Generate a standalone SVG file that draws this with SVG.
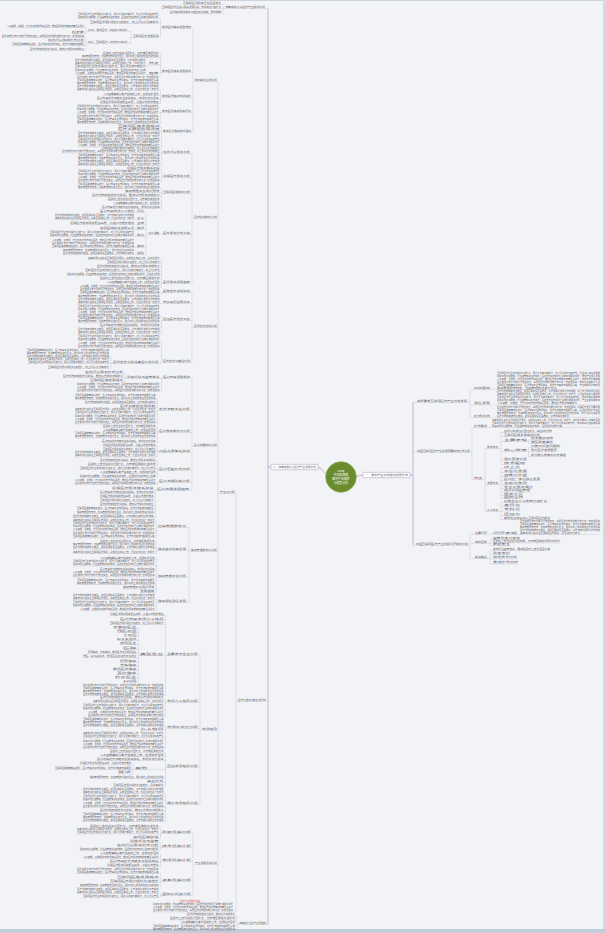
<svg xmlns="http://www.w3.org/2000/svg" width="606" height="933" viewBox="0 0 606 933">
<style>
.t{font-family:"Noto Sans CJK SC","Noto Sans",sans-serif;font-size:2.2px;fill:#5c5c5c}
.r{fill:#e0483e}
.w{font-family:"Noto Sans CJK SC","Noto Sans",sans-serif;font-size:2.9px;fill:#fff;text-anchor:middle}
.s{stroke:#c6bdd2;stroke-width:.4;fill:none}
.m{stroke:#b09dc3;stroke-width:.7;fill:none}
.b{fill:#fff;stroke:#a697b6;stroke-width:.5}
</style>
<rect width="606" height="933" fill="#f2f3f7"/>
<rect x="0" y="0" width="606" height="1" fill="#cfd5df"/>
<rect x="603" y="0" width="3" height="933" fill="#d3d8e1"/>
<rect x="0" y="929" width="606" height="4" fill="#c4cddb"/>
<g id="connectors">
<path class="m" d="M326 474.5Q322 468 318 467M356.2 476.5Q360 475 363 475M410 475H413M413 402.4V545.4M268 8.4V924.4M268 467H271"/>
<path class="s" d="M183 4.4H223M162 8.4H268M170 13.4H223M223 4.4V13.4M218 493.4H236M236 493.4V911.9M236 701.4H268M153 911.9H236M218 81.4V902.4M237 924.4H268M237 915.9V930.9M187 915.9H237M170 919.9H237M180 923.9H237M153 930.9H237M180 902.4H218"/>
<path class="s" d="M193 81.4H218M193 28.4V132.4M160.5 28.4H193M160.5 72.4H193M160.5 97.4H193M160.5 112.4H193M161.5 132.4H193M160.5 18.4V37.4M78 18.4H160.5M90 23.4H160.5M131 37.4H160.5M131 31.4V43.4M86 31.4H131M86 27.4V33.4M7 27.4H86M72 33.4H86M86 43.4H131M86 37.4V50.4M2 37.4H86M48 41.4H86M12 45.4H86M30 50.4H86M160.5 54.4V74.9M103 54.4H160.5M82 57.9H160.5M147.5 64.9H160.5M75 67.4H147.5M147.5 64.9V67.4M147.5 74.9H160.5M75 74.4H147.5M147.5 74.4V74.9M160.5 90.4V103.4M77 90.4H160.5M103 95.4H160.5M97 99.4H160.5M100 103.4H160.5M160.5 112.4V123.4M77 113.4H160.5M77 123.4H160.5M161.5 127.4V146.9M118 127.4H161.5M118 130.9H161.5M78 140.4H161.5M78 146.9H161.5"/>
<path class="s" d="M192 218.4H218M192 153.4V283.4M161.5 153.4H192M161.5 177.4H192M161.5 193.4H192M161.5 234.4H192M161.5 283.4H192M161.5 149.4V165.4M102 149.4H161.5M62 152.9H161.5M78 165.4H161.5M161.5 169.4V181.4M127 169.4H161.5M78 181.4H161.5M161.5 188.4V208.4M78 188.4H161.5M125 192.4H161.5M92 196.4H161.5M108 200.4H161.5M113 204.4H161.5M102 208.4H161.5M146 234.4H161.5M146 212.4V254.4M100 212.4H146M55 219.4H146M70 224.4H146M100 229.4H146M50 236.4H146M52 247.4H146M63 254.4H146M161.5 259.4V287.4M88 259.4H161.5M107 263.4H161.5M97 267.4H161.5M85 271.4H161.5M67 275.4H161.5M100 279.4H161.5M107 283.4H161.5M80 287.4H161.5"/>
<path class="s" d="M192 327.4H218M192 292.4V362.4M161.5 292.4H192M161.5 303.4H192M161.5 320.4H192M161.5 362.4H192M161.5 292.4V293.4M80 293.4H161.5M78 303.4H161.5M161.5 316.4V333.4M78 316.4H161.5M78 322.9H161.5M100 326.9H161.5M78 333.4H161.5M161.5 340.4V363.4M78 340.4H161.5M78 347.4H161.5M111 363.4H161.5M111 357.4V368.4M27 357.4H111M28 363.4H111M48 368.4H111"/>
<path class="s" d="M192 446.4H218M192 378.4V490.4M161.5 378.4H192M157.5 410.4H192M157.5 432.4H192M157.5 452.4H192M157.5 470.4H192M157.5 482.4H192M155.5 490.4H192M161.5 378.4V391.4M125 378.4H161.5M125 373.4V381.4M85 373.4H125M63 377.4H125M90 381.4H125M77 391.4H161.5M157.5 399.4V423.9M75 399.4H157.5M85 403.4H157.5M120 407.4H157.5M75 413.9H157.5M75 423.9H157.5M157.5 427.9V442.4M103 427.9H157.5M103 431.4H157.5M75 437.9H157.5M102 442.4H157.5M157.5 446.4V456.9M103 446.4H157.5M103 450.4H157.5M75 456.9H157.5M157.5 461.4V477.4M100 461.4H157.5M88 465.4H157.5M80 469.4H157.5M100 473.4H157.5M80 477.4H157.5M157.5 482.4V484.4M75 484.4H157.5M155.5 489.4V517.4M112 489.4H155.5M100 493.4H155.5M100 497.4H155.5M100 501.4H155.5M100 505.4H155.5M77 509.4H155.5M77 513.4H155.5M73 517.4H155.5"/>
<path class="s" d="M189 551.4H218M189 527.4V602.4M156.5 527.4H189M156.5 550.4H189M156.5 577.4H189M156.5 602.4H189M156.5 521.4V537.9M73 521.4H156.5M73 530.9H156.5M73 537.9H156.5M156.5 542.4V553.4M100 542.4H156.5M73 548.9H156.5M73 553.4H156.5M156.5 559.4V592.4M100 559.4H156.5M73 565.9H156.5M100 570.4H156.5M73 576.9H156.5M77 584.4H156.5M123 588.9H156.5M140 592.4H156.5M156.5 599.4V610.4M73 599.4H156.5M73 606.4H156.5M80 610.4H156.5"/>
<path class="s" d="M200 730.4H218M200 655.4V804.4M165.5 655.4H200M165.5 702.4H200M165.5 728.4H200M165.5 767.4H200M165.5 804.4H200M165.5 615.4V695.4M110 615.4H165.5M120 620.4H165.5M110 624.4H165.5M138.5 655.4H165.5M83 695.4H165.5M138.5 628.4V682.4M113 628.4H138.5M117 632.4H138.5M123 636.4H138.5M117 640.4H138.5M120 644.4H138.5M123 649.4H138.5M88 653.4H138.5M83 657.4H138.5M120 662.4H138.5M120 666.4H138.5M113 670.4H138.5M117 674.4H138.5M115 678.4H138.5M123 682.4H138.5M165.5 698.9V716.4M100 698.9H165.5M93 702.4H165.5M83 709.4H165.5M88 716.4H165.5M165.5 726.4V748.4M83 726.4H165.5M140 730.4H165.5M83 737.9H165.5M83 748.4H165.5M165.5 752.9V786.4M110 752.9H165.5M100 756.4H165.5M97 760.4H165.5M133 769.4H165.5M133 764.9V773.9M80 764.9H133M55 769.4H133M118 773.9H133M90 778.4H165.5M147 782.4H165.5M113 786.4H165.5M165.5 793.4V821.4M83 793.4H165.5M83 800.4H165.5M83 807.4H165.5M100 811.4H165.5M83 821.4H165.5"/>
<path class="s" d="M193 864.4H218M193 833.4V895.4M160.5 833.4H193M160.5 847.4H193M160.5 861.4H193M160.5 881.4H193M160.5 895.4H193M160.5 827.4V838.4M90 827.4H160.5M77 833.9H160.5M133 838.4H160.5M160.5 842.4V850.4M130 842.4H160.5M117 846.4H160.5M80 850.4H160.5M160.5 854.4V866.4M100 854.4H160.5M83 858.4H160.5M110 862.4H160.5M107 866.4H160.5M160.5 873.4V886.4M77 873.4H160.5M117 878.4H160.5M110 882.4H160.5M80 886.4H160.5M160.5 893.4V897.4M77 893.4H160.5M83 897.4H160.5"/>
<path class="s" d="M413 402.4H470M413 452.4H472M413 545.4H470M470 389.4V417.4M470 389.4H600M470 404.9H600M470 417.4H600M472 427.4V479.4M472 427.4H600M472 479.4H485M485 448.4V511.4M485 448.4H501M501 432.4V464.4M501 432.4H552M501 436.4H540M501 441.4H528.5M528.5 439.9V443.4M528.5 439.9H553M528.5 443.4H553M501 451.4H528.5M528.5 447.9V456.4M528.5 447.9H560M528.5 451.9H557M528.5 456.4H566M501 460.4H527M501 464.4H525M485 484.4H501M501 468.4V498.4M501 468.4H520M501 472.4H527M501 476.4H527M501 480.4H540M501 484.4H527M501 488.4H533M501 491.9H530M501 495.4H523M501 498.4H523M485 511.4H501M501 502.4V519.4M501 502.4H547M501 506.4H520M501 510.9H520M501 515.4H520M501 519.4H550M470 534.4V558.4M470 534.4H600M470 543.4H490M490 539.4V545.9M490 539.4H520M490 542.9H560M490 545.9H510M470 558.4H490M490 550.4V563.9M490 550.4H550M490 554.4H510M490 558.9H517M490 563.9H518"/>
</g>
<g id="center">
<circle cx="341" cy="477" r="15.3" fill="#6a8c2f" stroke="#86a84a" stroke-width="0.8"/>
<text class="w" x="341" y="471.6" style="font-size:2.2px">2019年</text>
<text class="w" x="341" y="475.6">中国互联网</text>
<text class="w" x="341" y="479.6">医疗产业现状</text>
<text class="w" x="341" y="483.6">与趋势分析</text>
</g>
<g id="L"><rect class="b" x="271" y="464.3" width="47" height="5.4" rx="0.4"/><text class="t" x="273" y="467.8" textLength="43" lengthAdjust="spacingAndGlyphs">二、流量获取分享医疗产业发展分析</text></g>
<g id="R"><rect class="b" x="363" y="472.3" width="47" height="5.4" rx="0.4"/><text class="t" x="365" y="475.8" textLength="43" lengthAdjust="spacingAndGlyphs">一、数字产业创新驱动发展方向</text></g>

<g id="L1"><text class="t" x="225" y="7.8" textLength="40" lengthAdjust="spacingAndGlyphs">流量获取分享医疗产业现状分析</text></g>
<g id="L1a"><text class="t" x="183" y="3.8" textLength="38" lengthAdjust="spacingAndGlyphs">互联网医疗政策环境全面优化</text></g>
<g id="L1b"><text class="t" x="162" y="7.8" textLength="59" lengthAdjust="spacingAndGlyphs">互联网医疗行业进入快速发展阶段，市场规模持续扩大</text></g>
<g id="L1c"><text class="t" x="170" y="12.8" textLength="51" lengthAdjust="spacingAndGlyphs">医疗健康服务数字化转型步伐加快，需求释放</text></g>
<g id="L2"><text class="t" x="238" y="700.8" textLength="28" lengthAdjust="spacingAndGlyphs">医疗产业数字化转型分析方向</text></g>
<g id="L3"><text class="t" x="239" y="923.8" textLength="27" lengthAdjust="spacingAndGlyphs">流量获取分享医疗产业发展趋势</text></g>
<g id="A"><text class="t" x="220" y="492.8" textLength="15" lengthAdjust="spacingAndGlyphs">产业化分析</text></g>
<g id="N80"><text class="t" x="195" y="80.8" textLength="22" lengthAdjust="spacingAndGlyphs">数字健康行业发展分析</text></g>
<g id="N217"><text class="t" x="194" y="217.8" textLength="23" lengthAdjust="spacingAndGlyphs">医疗服务数字化分析</text></g>
<g id="N326"><text class="t" x="194" y="326.8" textLength="23" lengthAdjust="spacingAndGlyphs">医疗信息化建设分析</text></g>
<g id="N445"><text class="t" x="194" y="445.8" textLength="23" lengthAdjust="spacingAndGlyphs">医药流通数字化分析</text></g>
<g id="N550"><text class="t" x="191" y="550.8" textLength="26" lengthAdjust="spacingAndGlyphs">健康管理数字化分析</text></g>
<g id="N729"><text class="t" x="202" y="729.8" textLength="15" lengthAdjust="spacingAndGlyphs">市场格局</text></g>
<g id="N863"><text class="t" x="195" y="863.8" textLength="22" lengthAdjust="spacingAndGlyphs">产业发展机遇分析</text></g>
<g id="RED"><text class="t r" x="180" y="901.8" textLength="20" lengthAdjust="spacingAndGlyphs">医疗产业发展新机遇</text></g>

<g id="lvl5">
<text class="t" x="162" y="27.8" textLength="29" lengthAdjust="spacingAndGlyphs">数字医疗健康发展背景</text>
<text class="t" x="162" y="71.8" textLength="29" lengthAdjust="spacingAndGlyphs">数字医疗健康发展现状</text>
<text class="t" x="162" y="96.8" textLength="29" lengthAdjust="spacingAndGlyphs">数字医疗健康市场规模</text>
<text class="t" x="162" y="111.8" textLength="29" lengthAdjust="spacingAndGlyphs">数字医疗健康政策环境</text>
<text class="t" x="163" y="131.8" textLength="28" lengthAdjust="spacingAndGlyphs">数字医疗健康技术驱动</text>
<text class="t" x="163" y="152.8" textLength="27" lengthAdjust="spacingAndGlyphs">在线问诊服务分析</text>
<text class="t" x="163" y="176.8" textLength="27" lengthAdjust="spacingAndGlyphs">远程医疗服务分析</text>
<text class="t" x="163" y="192.8" textLength="27" lengthAdjust="spacingAndGlyphs">互联网医院服务分析</text>
<text class="t" x="163" y="233.8" textLength="27" lengthAdjust="spacingAndGlyphs">医疗服务模式分类</text>
<text class="t" x="163" y="282.8" textLength="27" lengthAdjust="spacingAndGlyphs">医疗服务发展趋势</text>
<text class="t" x="163" y="291.8" textLength="27" lengthAdjust="spacingAndGlyphs">医院信息系统建设</text>
<text class="t" x="163" y="302.8" textLength="27" lengthAdjust="spacingAndGlyphs">电子病历应用水平</text>
<text class="t" x="163" y="319.8" textLength="27" lengthAdjust="spacingAndGlyphs">区域医疗信息平台</text>
<text class="t" x="163" y="361.8" textLength="27" lengthAdjust="spacingAndGlyphs">医疗信息化典型案例</text>
<text class="t" x="163" y="377.8" textLength="27" lengthAdjust="spacingAndGlyphs">医药电商发展现状</text>
<text class="t" x="159" y="409.8" textLength="31" lengthAdjust="spacingAndGlyphs">处方流转平台分析</text>
<text class="t" x="159" y="431.8" textLength="31" lengthAdjust="spacingAndGlyphs">医药物流数字化分析</text>
<text class="t" x="159" y="451.8" textLength="31" lengthAdjust="spacingAndGlyphs">药品追溯体系建设</text>
<text class="t" x="159" y="469.8" textLength="31" lengthAdjust="spacingAndGlyphs">医药零售模式创新</text>
<text class="t" x="159" y="481.8" textLength="31" lengthAdjust="spacingAndGlyphs">医药流通政策分析</text>
<text class="t" x="157" y="489.8" textLength="32" lengthAdjust="spacingAndGlyphs">医药流通发展趋势</text>
<text class="t" x="158" y="526.8" textLength="28" lengthAdjust="spacingAndGlyphs">慢病管理数字化</text>
<text class="t" x="158" y="549.8" textLength="28" lengthAdjust="spacingAndGlyphs">健康监测设备应用</text>
<text class="t" x="158" y="576.8" textLength="28" lengthAdjust="spacingAndGlyphs">健康管理平台分析</text>
<text class="t" x="158" y="601.8" textLength="28" lengthAdjust="spacingAndGlyphs">健康保险融合发展</text>
<text class="t" x="167" y="654.8" textLength="31" lengthAdjust="spacingAndGlyphs">主要参与企业分析</text>
<text class="t" x="167" y="701.8" textLength="31" lengthAdjust="spacingAndGlyphs">市场竞争格局分析</text>
<text class="t" x="167" y="727.8" textLength="31" lengthAdjust="spacingAndGlyphs">市场集中度分析</text>
<text class="t" x="167" y="766.8" textLength="31" lengthAdjust="spacingAndGlyphs">区域市场格局分析</text>
<text class="t" x="167" y="803.8" textLength="31" lengthAdjust="spacingAndGlyphs">细分市场格局分析</text>
<text class="t" x="162" y="832.8" textLength="29" lengthAdjust="spacingAndGlyphs">政策机遇分析</text>
<text class="t" x="162" y="846.8" textLength="29" lengthAdjust="spacingAndGlyphs">技术机遇分析</text>
<text class="t" x="162" y="860.8" textLength="29" lengthAdjust="spacingAndGlyphs">市场机遇分析</text>
<text class="t" x="162" y="880.8" textLength="29" lengthAdjust="spacingAndGlyphs">资本机遇分析</text>
<text class="t" x="162" y="894.8" textLength="29" lengthAdjust="spacingAndGlyphs">国际化机遇分析</text>
</g>

<g id="leaves-top">
<text class="t" x="78" y="14.8" textLength="80.5" lengthAdjust="spacingAndGlyphs">互联网医疗行业市场规模持续扩大，用户渗透率不断提升，线上问诊服务逐渐普及</text>
<text class="t" x="78" y="17.8" textLength="80.5" lengthAdjust="spacingAndGlyphs">政策红利持续释放，行业监管体系逐步完善，医保支付逐步向线上延伸打通服务闭环</text>
<text class="t" x="90" y="22.8" textLength="68.5" lengthAdjust="spacingAndGlyphs">互联网医疗用户规模持续增长，线上问诊渗透率提升</text>
<text class="t" x="133" y="36.8" textLength="25.5" lengthAdjust="spacingAndGlyphs">互联网医疗发展历程</text>
<text class="t" x="88" y="30.8" textLength="41" lengthAdjust="spacingAndGlyphs">2018、数字医疗（Digital Health）</text>
<text class="t" x="7" y="26.8" textLength="77" lengthAdjust="spacingAndGlyphs">人工智能、大数据、云计算等新技术加速落地，推动医疗服务效率和质量显著提升</text>
<text class="t" x="72" y="32.8" textLength="12" lengthAdjust="spacingAndGlyphs">起步期</text>
<text class="t" x="88" y="42.8" textLength="41" lengthAdjust="spacingAndGlyphs">2019、互联网医疗（Internet Health）</text>
<text class="t" x="2" y="36.8" textLength="82" lengthAdjust="spacingAndGlyphs">医疗资源分布不均衡问题依然突出，基层医疗机构服务能力有待进一步加强提高</text>
<text class="t" x="48" y="40.8" textLength="36" lengthAdjust="spacingAndGlyphs">在线问诊服务模式分析</text>
<text class="t" x="12" y="44.8" textLength="72" lengthAdjust="spacingAndGlyphs">互联网医院数量快速增长，医药电商平台布局加速，处方外流趋势日益明显</text>
<text class="t" x="30" y="49.8" textLength="54" lengthAdjust="spacingAndGlyphs">医疗机构加快信息化建设，推动诊疗服务流程优化</text>
<text class="t" x="103" y="53.8" textLength="55.5" lengthAdjust="spacingAndGlyphs">医保线上支付试点范围扩大，患者就医体验改善</text>
<text class="t" x="82" y="57.3" textLength="76.5" lengthAdjust="spacingAndGlyphs">健康管理需求旺盛，慢病管理市场潜力巨大，用户对线上服务的信任度逐步提高</text>
<text class="t" x="149" y="64.3" textLength="9.5" lengthAdjust="spacingAndGlyphs">特点</text>
<text class="t" x="75" y="60.8" textLength="70.5" lengthAdjust="spacingAndGlyphs">医疗机构加快数字化转型，智慧医院建设全面推进，诊疗流程持续优化</text>
<text class="t" x="75" y="63.8" textLength="70.5" lengthAdjust="spacingAndGlyphs">资本市场持续关注互联网医疗赛道，头部企业加速上市，集中度提升</text>
<text class="t" x="75" y="66.8" textLength="70.5" lengthAdjust="spacingAndGlyphs">互联网医疗行业市场规模持续扩大，用户渗透率不断提升</text>
<text class="t" x="149" y="74.3" textLength="9.5" lengthAdjust="spacingAndGlyphs">趋势</text>
<text class="t" x="75" y="70.8" textLength="70.5" lengthAdjust="spacingAndGlyphs">政策红利持续释放，行业监管体系逐步完善，医保支付逐步向线上延伸</text>
<text class="t" x="75" y="73.8" textLength="70.5" lengthAdjust="spacingAndGlyphs">人工智能、大数据等新技术加速落地，推动医疗服务效率显著提升</text>
<text class="t" x="77" y="77.8" textLength="81.5" lengthAdjust="spacingAndGlyphs">医疗资源分布不均衡问题依然突出，基层医疗机构服务能力有待进一步加强提高</text>
<text class="t" x="77" y="80.8" textLength="81.5" lengthAdjust="spacingAndGlyphs">互联网医院数量快速增长，医药电商平台布局加速，处方外流趋势日益明显清晰</text>
<text class="t" x="77" y="83.8" textLength="81.5" lengthAdjust="spacingAndGlyphs">健康管理需求旺盛，慢病管理市场潜力巨大，用户对线上服务的信任度逐步提高</text>
<text class="t" x="77" y="86.8" textLength="81.5" lengthAdjust="spacingAndGlyphs">医疗机构加快数字化转型，智慧医院建设全面推进，诊疗流程持续优化患者体验</text>
<text class="t" x="77" y="89.8" textLength="81.5" lengthAdjust="spacingAndGlyphs">资本市场持续关注互联网医疗赛道，头部企业加速上市，行业集中度进一步提升</text>
<text class="t" x="103" y="94.8" textLength="55.5" lengthAdjust="spacingAndGlyphs">人工智能辅助诊断产品获批上市，应用逐步落地</text>
<text class="t" x="97" y="98.8" textLength="61.5" lengthAdjust="spacingAndGlyphs">医药电商处方流转平台建设加速，市场集中度提高</text>
<text class="t" x="100" y="102.8" textLength="58.5" lengthAdjust="spacingAndGlyphs">远程医疗服务网络覆盖基层，分级诊疗稳步推进</text>
<text class="t" x="77" y="106.8" textLength="81.5" lengthAdjust="spacingAndGlyphs">互联网医疗行业市场规模持续扩大，用户渗透率不断提升，线上问诊服务逐渐普及</text>
<text class="t" x="77" y="109.8" textLength="81.5" lengthAdjust="spacingAndGlyphs">政策红利持续释放，行业监管体系逐步完善，医保支付逐步向线上延伸打通服务闭环</text>
<text class="t" x="77" y="112.8" textLength="81.5" lengthAdjust="spacingAndGlyphs">人工智能、大数据、云计算等新技术加速落地，推动医疗服务效率和质量显著提升</text>
<text class="t" x="77" y="116.8" textLength="81.5" lengthAdjust="spacingAndGlyphs">医疗资源分布不均衡问题依然突出，基层医疗机构服务能力有待进一步加强提高</text>
<text class="t" x="77" y="119.8" textLength="81.5" lengthAdjust="spacingAndGlyphs">互联网医院数量快速增长，医药电商平台布局加速，处方外流趋势日益明显清晰</text>
<text class="t" x="77" y="122.8" textLength="81.5" lengthAdjust="spacingAndGlyphs">健康管理需求旺盛，慢病管理市场潜力巨大，用户对线上服务的信任度逐步提高</text>
<text class="t" x="118" y="126.8" textLength="41.5" lengthAdjust="spacingAndGlyphs">互联网医院发展现状</text>
<text class="t" x="118" y="130.3" textLength="41.5" lengthAdjust="spacingAndGlyphs">医疗大数据应用场景</text>
<text class="t" x="78" y="133.8" textLength="81.5" lengthAdjust="spacingAndGlyphs">医疗机构加快数字化转型，智慧医院建设全面推进，诊疗流程持续优化患者体验</text>
<text class="t" x="78" y="136.8" textLength="81.5" lengthAdjust="spacingAndGlyphs">资本市场持续关注互联网医疗赛道，头部企业加速上市，行业集中度进一步提升</text>
<text class="t" x="78" y="139.8" textLength="81.5" lengthAdjust="spacingAndGlyphs">互联网医疗行业市场规模持续扩大，用户渗透率不断提升，线上问诊服务逐渐普及</text>
<text class="t" x="78" y="143.3" textLength="81.5" lengthAdjust="spacingAndGlyphs">政策红利持续释放，行业监管体系逐步完善，医保支付逐步向线上延伸打通服务闭环</text>
<text class="t" x="78" y="146.3" textLength="81.5" lengthAdjust="spacingAndGlyphs">人工智能、大数据、云计算等新技术加速落地，推动医疗服务效率和质量显著提升</text>
</g>

<g id="leaves-217">
<text class="t" x="102" y="148.8" textLength="57.5" lengthAdjust="spacingAndGlyphs">互联网医疗用户规模持续增长，线上问诊渗透率提升</text>
<text class="t" x="62" y="152.3" textLength="97.5" lengthAdjust="spacingAndGlyphs">医疗资源分布不均衡问题依然突出，基层医疗机构服务能力有待进一步加强，线上服务补充作用明显</text>
<text class="t" x="78" y="155.8" textLength="81.5" lengthAdjust="spacingAndGlyphs">互联网医院数量快速增长，医药电商平台布局加速，处方外流趋势日益明显清晰</text>
<text class="t" x="78" y="158.8" textLength="81.5" lengthAdjust="spacingAndGlyphs">健康管理需求旺盛，慢病管理市场潜力巨大，用户对线上服务的信任度逐步提高</text>
<text class="t" x="78" y="161.8" textLength="81.5" lengthAdjust="spacingAndGlyphs">医疗机构加快数字化转型，智慧医院建设全面推进，诊疗流程持续优化患者体验</text>
<text class="t" x="78" y="164.8" textLength="81.5" lengthAdjust="spacingAndGlyphs">资本市场持续关注互联网医疗赛道，头部企业加速上市，行业集中度进一步提升</text>
<text class="t" x="127" y="168.8" textLength="32.5" lengthAdjust="spacingAndGlyphs">远程医疗服务体系建设</text>
<text class="t" x="78" y="171.8" textLength="81.5" lengthAdjust="spacingAndGlyphs">互联网医疗行业市场规模持续扩大，用户渗透率不断提升，线上问诊服务逐渐普及</text>
<text class="t" x="78" y="174.8" textLength="81.5" lengthAdjust="spacingAndGlyphs">政策红利持续释放，行业监管体系逐步完善，医保支付逐步向线上延伸打通服务闭环</text>
<text class="t" x="78" y="177.8" textLength="81.5" lengthAdjust="spacingAndGlyphs">人工智能、大数据、云计算等新技术加速落地，推动医疗服务效率和质量显著提升</text>
<text class="t" x="78" y="180.8" textLength="81.5" lengthAdjust="spacingAndGlyphs">医疗资源分布不均衡问题依然突出，基层医疗机构服务能力有待进一步加强提高</text>
<text class="t" x="78" y="184.8" textLength="81.5" lengthAdjust="spacingAndGlyphs">互联网医院数量快速增长，医药电商平台布局加速，处方外流趋势日益明显清晰</text>
<text class="t" x="78" y="187.8" textLength="81.5" lengthAdjust="spacingAndGlyphs">健康管理需求旺盛，慢病管理市场潜力巨大，用户对线上服务的信任度逐步提高</text>
<text class="t" x="125" y="191.8" textLength="34.5" lengthAdjust="spacingAndGlyphs">健康管理平台用户需求</text>
<text class="t" x="92" y="195.8" textLength="67.5" lengthAdjust="spacingAndGlyphs">医疗机构加快信息化建设，推动诊疗服务流程优化</text>
<text class="t" x="108" y="199.8" textLength="51.5" lengthAdjust="spacingAndGlyphs">医保线上支付试点范围扩大，患者就医体验改善</text>
<text class="t" x="113" y="203.8" textLength="46.5" lengthAdjust="spacingAndGlyphs">人工智能辅助诊断产品获批上市，应用落地</text>
<text class="t" x="102" y="207.8" textLength="57.5" lengthAdjust="spacingAndGlyphs">医药电商处方流转平台建设加速，市场集中度提高</text>
<text class="t" x="148" y="233.8" textLength="11.5" lengthAdjust="spacingAndGlyphs">分类</text>
<text class="t" x="137" y="211.8" textLength="7" lengthAdjust="spacingAndGlyphs">问诊</text>
<text class="t" x="137" y="218.8" textLength="7" lengthAdjust="spacingAndGlyphs">复诊</text>
<text class="t" x="137" y="223.8" textLength="7" lengthAdjust="spacingAndGlyphs">咨询</text>
<text class="t" x="137" y="228.8" textLength="7" lengthAdjust="spacingAndGlyphs">随访</text>
<text class="t" x="137" y="235.8" textLength="7" lengthAdjust="spacingAndGlyphs">购药</text>
<text class="t" x="137" y="246.8" textLength="7" lengthAdjust="spacingAndGlyphs">健康</text>
<text class="t" x="137" y="253.8" textLength="7" lengthAdjust="spacingAndGlyphs">保险</text>
<text class="t" x="100" y="211.8" textLength="34" lengthAdjust="spacingAndGlyphs">医药电商市场竞争格局</text>
<text class="t" x="55" y="215.8" textLength="79" lengthAdjust="spacingAndGlyphs">医疗机构加快数字化转型，智慧医院建设全面推进，诊疗流程持续优化患者体验</text>
<text class="t" x="55" y="218.8" textLength="79" lengthAdjust="spacingAndGlyphs">资本市场持续关注互联网医疗赛道，头部企业加速上市，行业集中度进一步提升</text>
<text class="t" x="70" y="223.8" textLength="64" lengthAdjust="spacingAndGlyphs">远程医疗服务网络覆盖基层，分级诊疗稳步推进</text>
<text class="t" x="100" y="228.8" textLength="34" lengthAdjust="spacingAndGlyphs">智慧医院建设进展情况</text>
<text class="t" x="50" y="232.8" textLength="84" lengthAdjust="spacingAndGlyphs">互联网医疗行业市场规模持续扩大，用户渗透率不断提升，线上问诊服务逐渐普及</text>
<text class="t" x="50" y="235.8" textLength="84" lengthAdjust="spacingAndGlyphs">政策红利持续释放，行业监管体系逐步完善，医保支付逐步向线上延伸打通服务闭环</text>
<text class="t" x="52" y="240.8" textLength="82" lengthAdjust="spacingAndGlyphs">人工智能、大数据、云计算等新技术加速落地，推动医疗服务效率和质量显著提升</text>
<text class="t" x="52" y="243.8" textLength="82" lengthAdjust="spacingAndGlyphs">医疗资源分布不均衡问题依然突出，基层医疗机构服务能力有待进一步加强提高</text>
<text class="t" x="52" y="246.8" textLength="82" lengthAdjust="spacingAndGlyphs">互联网医院数量快速增长，医药电商平台布局加速，处方外流趋势日益明显清晰</text>
<text class="t" x="63" y="250.8" textLength="71" lengthAdjust="spacingAndGlyphs">健康管理需求旺盛，慢病管理市场潜力巨大，用户信任度逐步提高</text>
<text class="t" x="63" y="253.8" textLength="71" lengthAdjust="spacingAndGlyphs">医疗机构加快数字化转型，智慧医院建设全面推进，诊疗流程持续优化</text>
<text class="t" x="88" y="258.8" textLength="71.5" lengthAdjust="spacingAndGlyphs">资本市场持续关注互联网医疗赛道，头部企业加速上市，集中度提升</text>
<text class="t" x="107" y="262.8" textLength="52.5" lengthAdjust="spacingAndGlyphs">互联网医疗用户规模持续增长，线上问诊渗透率提升</text>
<text class="t" x="97" y="266.8" textLength="62.5" lengthAdjust="spacingAndGlyphs">医疗机构加快信息化建设，推动诊疗服务流程优化</text>
<text class="t" x="85" y="270.8" textLength="74.5" lengthAdjust="spacingAndGlyphs">互联网医疗行业市场规模持续扩大，用户渗透率不断提升，线上问诊普及</text>
<text class="t" x="67" y="274.8" textLength="92.5" lengthAdjust="spacingAndGlyphs">政策红利持续释放，行业监管体系逐步完善，医保支付逐步向线上延伸打通服务闭环，行业规范发展</text>
<text class="t" x="100" y="278.8" textLength="59.5" lengthAdjust="spacingAndGlyphs">医保线上支付试点范围扩大，患者就医体验改善</text>
<text class="t" x="107" y="282.8" textLength="52.5" lengthAdjust="spacingAndGlyphs">人工智能辅助诊断产品获批上市，应用逐步落地</text>
<text class="t" x="80" y="286.8" textLength="79.5" lengthAdjust="spacingAndGlyphs">人工智能、大数据、云计算等新技术加速落地，推动医疗服务效率和质量显著提升</text>
</g>

<g id="leaves-326">
<text class="t" x="80" y="289.8" textLength="79.5" lengthAdjust="spacingAndGlyphs">医疗资源分布不均衡问题依然突出，基层医疗机构服务能力有待进一步加强提高</text>
<text class="t" x="80" y="292.8" textLength="79.5" lengthAdjust="spacingAndGlyphs">互联网医院数量快速增长，医药电商平台布局加速，处方外流趋势日益明显清晰</text>
<text class="t" x="78" y="296.8" textLength="81.5" lengthAdjust="spacingAndGlyphs">健康管理需求旺盛，慢病管理市场潜力巨大，用户对线上服务的信任度逐步提高</text>
<text class="t" x="78" y="299.8" textLength="81.5" lengthAdjust="spacingAndGlyphs">医疗机构加快数字化转型，智慧医院建设全面推进，诊疗流程持续优化患者体验</text>
<text class="t" x="78" y="302.8" textLength="81.5" lengthAdjust="spacingAndGlyphs">资本市场持续关注互联网医疗赛道，头部企业加速上市，行业集中度进一步提升</text>
<text class="t" x="78" y="306.8" textLength="81.5" lengthAdjust="spacingAndGlyphs">互联网医疗行业市场规模持续扩大，用户渗透率不断提升，线上问诊服务逐渐普及</text>
<text class="t" x="78" y="309.8" textLength="81.5" lengthAdjust="spacingAndGlyphs">政策红利持续释放，行业监管体系逐步完善，医保支付逐步向线上延伸打通服务闭环</text>
<text class="t" x="78" y="312.8" textLength="81.5" lengthAdjust="spacingAndGlyphs">人工智能、大数据、云计算等新技术加速落地，推动医疗服务效率和质量显著提升</text>
<text class="t" x="78" y="315.8" textLength="81.5" lengthAdjust="spacingAndGlyphs">医疗资源分布不均衡问题依然突出，基层医疗机构服务能力有待进一步加强提高</text>
<text class="t" x="78" y="319.3" textLength="81.5" lengthAdjust="spacingAndGlyphs">互联网医院数量快速增长，医药电商平台布局加速，处方外流趋势日益明显清晰</text>
<text class="t" x="78" y="322.3" textLength="81.5" lengthAdjust="spacingAndGlyphs">健康管理需求旺盛，慢病管理市场潜力巨大，用户对线上服务的信任度逐步提高</text>
<text class="t" x="100" y="326.3" textLength="59.5" lengthAdjust="spacingAndGlyphs">医药电商处方流转平台建设加速，市场集中度提高</text>
<text class="t" x="78" y="329.8" textLength="81.5" lengthAdjust="spacingAndGlyphs">医疗机构加快数字化转型，智慧医院建设全面推进，诊疗流程持续优化患者体验</text>
<text class="t" x="78" y="332.8" textLength="81.5" lengthAdjust="spacingAndGlyphs">资本市场持续关注互联网医疗赛道，头部企业加速上市，行业集中度进一步提升</text>
<text class="t" x="78" y="336.8" textLength="81.5" lengthAdjust="spacingAndGlyphs">互联网医疗行业市场规模持续扩大，用户渗透率不断提升，线上问诊服务逐渐普及</text>
<text class="t" x="78" y="339.8" textLength="81.5" lengthAdjust="spacingAndGlyphs">政策红利持续释放，行业监管体系逐步完善，医保支付逐步向线上延伸打通服务闭环</text>
<text class="t" x="78" y="343.8" textLength="81.5" lengthAdjust="spacingAndGlyphs">人工智能、大数据、云计算等新技术加速落地，推动医疗服务效率和质量显著提升</text>
<text class="t" x="78" y="346.8" textLength="81.5" lengthAdjust="spacingAndGlyphs">医疗资源分布不均衡问题依然突出，基层医疗机构服务能力有待进一步加强提高</text>
<text class="t" x="113" y="362.8" textLength="45.5" lengthAdjust="spacingAndGlyphs">医疗信息化建设典型案例分析</text>
<text class="t" x="27" y="350.8" textLength="82" lengthAdjust="spacingAndGlyphs">互联网医院数量快速增长，医药电商平台布局加速，处方外流趋势日益明显清晰</text>
<text class="t" x="27" y="353.8" textLength="82" lengthAdjust="spacingAndGlyphs">健康管理需求旺盛，慢病管理市场潜力巨大，用户对线上服务的信任度逐步提高</text>
<text class="t" x="27" y="356.8" textLength="82" lengthAdjust="spacingAndGlyphs">医疗机构加快数字化转型，智慧医院建设全面推进，诊疗流程持续优化患者体验</text>
<text class="t" x="28" y="359.8" textLength="81" lengthAdjust="spacingAndGlyphs">资本市场持续关注互联网医疗赛道，头部企业加速上市，行业集中度进一步提升</text>
<text class="t" x="28" y="362.8" textLength="81" lengthAdjust="spacingAndGlyphs">互联网医疗行业市场规模持续扩大，用户渗透率不断提升，线上问诊服务逐渐普及</text>
<text class="t" x="48" y="367.8" textLength="61" lengthAdjust="spacingAndGlyphs">互联网医疗用户规模持续增长，线上问诊渗透率提升</text>
</g>

<g id="leaves-445">
<text class="t" x="127" y="377.8" textLength="32.5" lengthAdjust="spacingAndGlyphs">政策环境与监管体系</text>
<text class="t" x="85" y="372.8" textLength="38" lengthAdjust="spacingAndGlyphs">在线问诊服务模式分析</text>
<text class="t" x="63" y="376.8" textLength="60" lengthAdjust="spacingAndGlyphs">医疗机构加快信息化建设，推动诊疗服务流程优化</text>
<text class="t" x="90" y="380.8" textLength="33" lengthAdjust="spacingAndGlyphs">互联网医院发展现状</text>
<text class="t" x="77" y="384.8" textLength="82.5" lengthAdjust="spacingAndGlyphs">政策红利持续释放，行业监管体系逐步完善，医保支付逐步向线上延伸打通服务闭环</text>
<text class="t" x="77" y="387.8" textLength="82.5" lengthAdjust="spacingAndGlyphs">人工智能、大数据、云计算等新技术加速落地，推动医疗服务效率和质量显著提升</text>
<text class="t" x="77" y="390.8" textLength="82.5" lengthAdjust="spacingAndGlyphs">医疗资源分布不均衡问题依然突出，基层医疗机构服务能力有待进一步加强提高</text>
<text class="t" x="75" y="395.8" textLength="80.5" lengthAdjust="spacingAndGlyphs">互联网医院数量快速增长，医药电商平台布局加速，处方外流趋势日益明显清晰</text>
<text class="t" x="75" y="398.8" textLength="80.5" lengthAdjust="spacingAndGlyphs">健康管理需求旺盛，慢病管理市场潜力巨大，用户对线上服务的信任度逐步提高</text>
<text class="t" x="85" y="402.8" textLength="70.5" lengthAdjust="spacingAndGlyphs">医疗机构加快数字化转型，智慧医院建设全面推进，诊疗流程持续优化</text>
<text class="t" x="120" y="406.8" textLength="35.5" lengthAdjust="spacingAndGlyphs">医疗大数据应用场景</text>
<text class="t" x="75" y="410.3" textLength="80.5" lengthAdjust="spacingAndGlyphs">资本市场持续关注互联网医疗赛道，头部企业加速上市，行业集中度进一步提升</text>
<text class="t" x="75" y="413.3" textLength="80.5" lengthAdjust="spacingAndGlyphs">互联网医疗行业市场规模持续扩大，用户渗透率不断提升，线上问诊服务逐渐普及</text>
<text class="t" x="75" y="417.3" textLength="80.5" lengthAdjust="spacingAndGlyphs">政策红利持续释放，行业监管体系逐步完善，医保支付逐步向线上延伸打通服务闭环</text>
<text class="t" x="75" y="420.3" textLength="80.5" lengthAdjust="spacingAndGlyphs">人工智能、大数据、云计算等新技术加速落地，推动医疗服务效率和质量显著提升</text>
<text class="t" x="75" y="423.3" textLength="80.5" lengthAdjust="spacingAndGlyphs">医疗资源分布不均衡问题依然突出，基层医疗机构服务能力有待进一步加强提高</text>
<text class="t" x="103" y="427.3" textLength="52.5" lengthAdjust="spacingAndGlyphs">医保线上支付试点范围扩大，患者就医体验改善</text>
<text class="t" x="103" y="430.8" textLength="52.5" lengthAdjust="spacingAndGlyphs">人工智能辅助诊断产品获批上市，应用逐步落地</text>
<text class="t" x="75" y="434.3" textLength="80.5" lengthAdjust="spacingAndGlyphs">互联网医院数量快速增长，医药电商平台布局加速，处方外流趋势日益明显清晰</text>
<text class="t" x="75" y="437.3" textLength="80.5" lengthAdjust="spacingAndGlyphs">健康管理需求旺盛，慢病管理市场潜力巨大，用户对线上服务的信任度逐步提高</text>
<text class="t" x="102" y="441.8" textLength="53.5" lengthAdjust="spacingAndGlyphs">医药电商处方流转平台建设加速，市场集中度提高</text>
<text class="t" x="103" y="445.8" textLength="52.5" lengthAdjust="spacingAndGlyphs">远程医疗服务网络覆盖基层，分级诊疗稳步推进</text>
<text class="t" x="103" y="449.8" textLength="52.5" lengthAdjust="spacingAndGlyphs">互联网医疗用户规模持续增长，线上问诊渗透率提升</text>
<text class="t" x="75" y="453.3" textLength="80.5" lengthAdjust="spacingAndGlyphs">医疗机构加快数字化转型，智慧医院建设全面推进，诊疗流程持续优化患者体验</text>
<text class="t" x="75" y="456.3" textLength="80.5" lengthAdjust="spacingAndGlyphs">资本市场持续关注互联网医疗赛道，头部企业加速上市，行业集中度进一步提升</text>
<text class="t" x="100" y="460.8" textLength="55.5" lengthAdjust="spacingAndGlyphs">医疗机构加快信息化建设，推动诊疗服务流程优化</text>
<text class="t" x="88" y="464.8" textLength="67.5" lengthAdjust="spacingAndGlyphs">医保线上支付试点范围扩大，患者就医体验持续改善</text>
<text class="t" x="80" y="468.8" textLength="75.5" lengthAdjust="spacingAndGlyphs">互联网医疗行业市场规模持续扩大，用户渗透率不断提升，线上问诊普及</text>
<text class="t" x="100" y="472.8" textLength="55.5" lengthAdjust="spacingAndGlyphs">人工智能辅助诊断产品获批上市，应用逐步落地</text>
<text class="t" x="80" y="476.8" textLength="75.5" lengthAdjust="spacingAndGlyphs">政策红利持续释放，行业监管体系逐步完善，医保支付逐步向线上延伸</text>
<text class="t" x="75" y="480.8" textLength="80.5" lengthAdjust="spacingAndGlyphs">人工智能、大数据、云计算等新技术加速落地，推动医疗服务效率和质量显著提升</text>
<text class="t" x="75" y="483.8" textLength="80.5" lengthAdjust="spacingAndGlyphs">医疗资源分布不均衡问题依然突出，基层医疗机构服务能力有待进一步加强提高</text>
<text class="t" x="112" y="488.8" textLength="41.5" lengthAdjust="spacingAndGlyphs">远程医疗服务体系建设</text>
<text class="t" x="100" y="492.8" textLength="53.5" lengthAdjust="spacingAndGlyphs">医药电商处方流转平台建设加速，市场集中度提高</text>
<text class="t" x="100" y="496.8" textLength="53.5" lengthAdjust="spacingAndGlyphs">远程医疗服务网络覆盖基层，分级诊疗稳步推进</text>
<text class="t" x="100" y="500.8" textLength="53.5" lengthAdjust="spacingAndGlyphs">互联网医疗用户规模持续增长，线上问诊渗透率提升</text>
<text class="t" x="100" y="504.8" textLength="53.5" lengthAdjust="spacingAndGlyphs">医疗机构加快信息化建设，推动诊疗服务流程优化</text>
<text class="t" x="77" y="508.8" textLength="76.5" lengthAdjust="spacingAndGlyphs">互联网医院数量快速增长，医药电商平台布局加速，处方外流趋势日益明显</text>
<text class="t" x="77" y="512.8" textLength="76.5" lengthAdjust="spacingAndGlyphs">健康管理需求旺盛，慢病管理市场潜力巨大，用户对线上服务的信任度提高</text>
<text class="t" x="73" y="516.8" textLength="80.5" lengthAdjust="spacingAndGlyphs">医疗机构加快数字化转型，智慧医院建设全面推进，诊疗流程持续优化患者体验</text>
</g>

<g id="leaves-550">
<text class="t" x="73" y="520.8" textLength="81.5" lengthAdjust="spacingAndGlyphs">资本市场持续关注互联网医疗赛道，头部企业加速上市，行业集中度进一步提升</text>
<text class="t" x="73" y="524.3" textLength="81.5" lengthAdjust="spacingAndGlyphs">互联网医疗行业市场规模持续扩大，用户渗透率不断提升，线上问诊服务逐渐普及</text>
<text class="t" x="73" y="527.3" textLength="81.5" lengthAdjust="spacingAndGlyphs">政策红利持续释放，行业监管体系逐步完善，医保支付逐步向线上延伸打通服务闭环</text>
<text class="t" x="73" y="530.3" textLength="81.5" lengthAdjust="spacingAndGlyphs">人工智能、大数据、云计算等新技术加速落地，推动医疗服务效率和质量显著提升</text>
<text class="t" x="73" y="534.3" textLength="81.5" lengthAdjust="spacingAndGlyphs">医疗资源分布不均衡问题依然突出，基层医疗机构服务能力有待进一步加强提高</text>
<text class="t" x="73" y="537.3" textLength="81.5" lengthAdjust="spacingAndGlyphs">互联网医院数量快速增长，医药电商平台布局加速，处方外流趋势日益明显清晰</text>
<text class="t" x="100" y="541.8" textLength="54.5" lengthAdjust="spacingAndGlyphs">医保线上支付试点范围扩大，患者就医体验改善</text>
<text class="t" x="73" y="545.3" textLength="81.5" lengthAdjust="spacingAndGlyphs">健康管理需求旺盛，慢病管理市场潜力巨大，用户对线上服务的信任度逐步提高</text>
<text class="t" x="73" y="548.3" textLength="81.5" lengthAdjust="spacingAndGlyphs">医疗机构加快数字化转型，智慧医院建设全面推进，诊疗流程持续优化患者体验</text>
<text class="t" x="73" y="552.8" textLength="81.5" lengthAdjust="spacingAndGlyphs">资本市场持续关注互联网医疗赛道，头部企业加速上市，行业集中度进一步提升</text>
<text class="t" x="100" y="558.8" textLength="54.5" lengthAdjust="spacingAndGlyphs">人工智能辅助诊断产品获批上市，应用逐步落地</text>
<text class="t" x="73" y="562.3" textLength="81.5" lengthAdjust="spacingAndGlyphs">互联网医疗行业市场规模持续扩大，用户渗透率不断提升，线上问诊服务逐渐普及</text>
<text class="t" x="73" y="565.3" textLength="81.5" lengthAdjust="spacingAndGlyphs">政策红利持续释放，行业监管体系逐步完善，医保支付逐步向线上延伸打通服务闭环</text>
<text class="t" x="100" y="569.8" textLength="54.5" lengthAdjust="spacingAndGlyphs">医药电商处方流转平台建设加速，市场集中度提高</text>
<text class="t" x="73" y="573.3" textLength="81.5" lengthAdjust="spacingAndGlyphs">人工智能、大数据、云计算等新技术加速落地，推动医疗服务效率和质量显著提升</text>
<text class="t" x="73" y="576.3" textLength="81.5" lengthAdjust="spacingAndGlyphs">医疗资源分布不均衡问题依然突出，基层医疗机构服务能力有待进一步加强提高</text>
<text class="t" x="77" y="580.8" textLength="77.5" lengthAdjust="spacingAndGlyphs">互联网医院数量快速增长，医药电商平台布局加速，处方外流趋势日益明显</text>
<text class="t" x="77" y="583.8" textLength="77.5" lengthAdjust="spacingAndGlyphs">健康管理需求旺盛，慢病管理市场潜力巨大，用户对线上服务的信任度提高</text>
<text class="t" x="123" y="588.3" textLength="31.5" lengthAdjust="spacingAndGlyphs">健康管理平台用户需求</text>
<text class="t" x="140" y="591.8" textLength="14.5" lengthAdjust="spacingAndGlyphs">发展趋势</text>
<text class="t" x="73" y="595.8" textLength="81.5" lengthAdjust="spacingAndGlyphs">医疗机构加快数字化转型，智慧医院建设全面推进，诊疗流程持续优化患者体验</text>
<text class="t" x="73" y="598.8" textLength="81.5" lengthAdjust="spacingAndGlyphs">资本市场持续关注互联网医疗赛道，头部企业加速上市，行业集中度进一步提升</text>
<text class="t" x="73" y="602.8" textLength="81.5" lengthAdjust="spacingAndGlyphs">互联网医疗行业市场规模持续扩大，用户渗透率不断提升，线上问诊服务逐渐普及</text>
<text class="t" x="73" y="605.8" textLength="81.5" lengthAdjust="spacingAndGlyphs">政策红利持续释放，行业监管体系逐步完善，医保支付逐步向线上延伸打通服务闭环</text>
<text class="t" x="80" y="609.8" textLength="74.5" lengthAdjust="spacingAndGlyphs">人工智能、大数据等新技术加速落地，推动医疗服务效率和质量显著提升</text>
</g>

<g id="leaves-729">
<text class="t" x="110" y="614.8" textLength="53.5" lengthAdjust="spacingAndGlyphs">远程医疗服务网络覆盖基层，分级诊疗稳步推进</text>
<text class="t" x="120" y="619.8" textLength="43.5" lengthAdjust="spacingAndGlyphs">医药电商市场竞争格局</text>
<text class="t" x="110" y="623.8" textLength="53.5" lengthAdjust="spacingAndGlyphs">互联网医疗用户规模持续增长，线上问诊渗透率提升</text>
<text class="t" x="140" y="654.8" textLength="23.5" lengthAdjust="spacingAndGlyphs">典型企业</text>
<text class="t" x="113" y="627.8" textLength="23.5" lengthAdjust="spacingAndGlyphs">平安好医生</text>
<text class="t" x="117" y="631.8" textLength="19.5" lengthAdjust="spacingAndGlyphs">微医集团</text>
<text class="t" x="123" y="635.8" textLength="13.5" lengthAdjust="spacingAndGlyphs">丁香园</text>
<text class="t" x="117" y="639.8" textLength="19.5" lengthAdjust="spacingAndGlyphs">好大夫在线</text>
<text class="t" x="120" y="643.8" textLength="16.5" lengthAdjust="spacingAndGlyphs">春雨医生</text>
<text class="t" x="123" y="648.8" textLength="13.5" lengthAdjust="spacingAndGlyphs">医联</text>
<text class="t" x="88" y="652.8" textLength="48.5" lengthAdjust="spacingAndGlyphs">阿里健康、京东健康、腾讯医疗等互联网巨头</text>
<text class="t" x="83" y="656.8" textLength="53.5" lengthAdjust="spacingAndGlyphs">微医、好大夫在线、春雨医生等垂直平台企业</text>
<text class="t" x="120" y="661.8" textLength="16.5" lengthAdjust="spacingAndGlyphs">阿里健康</text>
<text class="t" x="120" y="665.8" textLength="16.5" lengthAdjust="spacingAndGlyphs">京东健康</text>
<text class="t" x="113" y="669.8" textLength="23.5" lengthAdjust="spacingAndGlyphs">腾讯医疗健康</text>
<text class="t" x="117" y="673.8" textLength="19.5" lengthAdjust="spacingAndGlyphs">百度健康</text>
<text class="t" x="115" y="677.8" textLength="21.5" lengthAdjust="spacingAndGlyphs">妙手医生</text>
<text class="t" x="123" y="681.8" textLength="13.5" lengthAdjust="spacingAndGlyphs">1药网</text>
<text class="t" x="83" y="685.8" textLength="80.5" lengthAdjust="spacingAndGlyphs">医疗资源分布不均衡问题依然突出，基层医疗机构服务能力有待进一步加强提高</text>
<text class="t" x="83" y="688.8" textLength="80.5" lengthAdjust="spacingAndGlyphs">互联网医院数量快速增长，医药电商平台布局加速，处方外流趋势日益明显清晰</text>
<text class="t" x="83" y="691.8" textLength="80.5" lengthAdjust="spacingAndGlyphs">健康管理需求旺盛，慢病管理市场潜力巨大，用户对线上服务的信任度逐步提高</text>
<text class="t" x="83" y="694.8" textLength="80.5" lengthAdjust="spacingAndGlyphs">医疗机构加快数字化转型，智慧医院建设全面推进，诊疗流程持续优化患者体验</text>
<text class="t" x="100" y="698.3" textLength="63.5" lengthAdjust="spacingAndGlyphs">医疗机构加快信息化建设，推动诊疗服务流程优化</text>
<text class="t" x="93" y="701.8" textLength="70.5" lengthAdjust="spacingAndGlyphs">资本市场持续关注互联网医疗赛道，头部企业加速上市，集中度提升</text>
<text class="t" x="83" y="705.8" textLength="80.5" lengthAdjust="spacingAndGlyphs">互联网医疗行业市场规模持续扩大，用户渗透率不断提升，线上问诊服务逐渐普及</text>
<text class="t" x="83" y="708.8" textLength="80.5" lengthAdjust="spacingAndGlyphs">政策红利持续释放，行业监管体系逐步完善，医保支付逐步向线上延伸打通服务闭环</text>
<text class="t" x="88" y="712.8" textLength="75.5" lengthAdjust="spacingAndGlyphs">人工智能、大数据等新技术加速落地，推动医疗服务效率和质量显著提升</text>
<text class="t" x="88" y="715.8" textLength="75.5" lengthAdjust="spacingAndGlyphs">医疗资源分布不均衡问题依然突出，基层医疗机构服务能力有待加强</text>
<text class="t" x="83" y="719.8" textLength="80.5" lengthAdjust="spacingAndGlyphs">互联网医院数量快速增长，医药电商平台布局加速，处方外流趋势日益明显清晰</text>
<text class="t" x="83" y="722.8" textLength="80.5" lengthAdjust="spacingAndGlyphs">健康管理需求旺盛，慢病管理市场潜力巨大，用户对线上服务的信任度逐步提高</text>
<text class="t" x="83" y="725.8" textLength="80.5" lengthAdjust="spacingAndGlyphs">医疗机构加快数字化转型，智慧医院建设全面推进，诊疗流程持续优化患者体验</text>
<text class="t" x="140" y="729.8" textLength="23.5" lengthAdjust="spacingAndGlyphs">竞争格局</text>
<text class="t" x="83" y="734.3" textLength="80.5" lengthAdjust="spacingAndGlyphs">资本市场持续关注互联网医疗赛道，头部企业加速上市，行业集中度进一步提升</text>
<text class="t" x="83" y="737.3" textLength="80.5" lengthAdjust="spacingAndGlyphs">互联网医疗行业市场规模持续扩大，用户渗透率不断提升，线上问诊服务逐渐普及</text>
<text class="t" x="83" y="741.8" textLength="80.5" lengthAdjust="spacingAndGlyphs">政策红利持续释放，行业监管体系逐步完善，医保支付逐步向线上延伸打通服务闭环</text>
<text class="t" x="83" y="744.8" textLength="80.5" lengthAdjust="spacingAndGlyphs">人工智能、大数据、云计算等新技术加速落地，推动医疗服务效率和质量显著提升</text>
<text class="t" x="83" y="747.8" textLength="80.5" lengthAdjust="spacingAndGlyphs">医疗资源分布不均衡问题依然突出，基层医疗机构服务能力有待进一步加强提高</text>
<text class="t" x="110" y="752.3" textLength="53.5" lengthAdjust="spacingAndGlyphs">医保线上支付试点范围扩大，患者就医体验改善</text>
<text class="t" x="100" y="755.8" textLength="63.5" lengthAdjust="spacingAndGlyphs">人工智能辅助诊断产品获批上市，应用逐步落地</text>
<text class="t" x="97" y="759.8" textLength="66.5" lengthAdjust="spacingAndGlyphs">医药电商处方流转平台建设加速，市场集中度提高</text>
<text class="t" x="135" y="768.8" textLength="12" lengthAdjust="spacingAndGlyphs">其他</text>
<text class="t" x="80" y="764.3" textLength="51" lengthAdjust="spacingAndGlyphs">远程医疗服务网络覆盖基层，分级诊疗稳步推进</text>
<text class="t" x="55" y="768.8" textLength="76" lengthAdjust="spacingAndGlyphs">互联网医院数量快速增长，医药电商平台布局加速，处方外流趋势日益明显</text>
<text class="t" x="118" y="773.3" textLength="13" lengthAdjust="spacingAndGlyphs">展望</text>
<text class="t" x="90" y="777.8" textLength="73.5" lengthAdjust="spacingAndGlyphs">健康管理需求旺盛，慢病管理市场潜力巨大，用户对线上服务信任度提高</text>
<text class="t" x="147" y="781.8" textLength="16.5" lengthAdjust="spacingAndGlyphs">商业模式</text>
<text class="t" x="113" y="785.8" textLength="50.5" lengthAdjust="spacingAndGlyphs">互联网医疗用户规模持续增长，渗透率提升</text>
<text class="t" x="83" y="789.8" textLength="80.5" lengthAdjust="spacingAndGlyphs">医疗机构加快数字化转型，智慧医院建设全面推进，诊疗流程持续优化患者体验</text>
<text class="t" x="83" y="792.8" textLength="80.5" lengthAdjust="spacingAndGlyphs">资本市场持续关注互联网医疗赛道，头部企业加速上市，行业集中度进一步提升</text>
<text class="t" x="83" y="796.8" textLength="80.5" lengthAdjust="spacingAndGlyphs">互联网医疗行业市场规模持续扩大，用户渗透率不断提升，线上问诊服务逐渐普及</text>
<text class="t" x="83" y="799.8" textLength="80.5" lengthAdjust="spacingAndGlyphs">政策红利持续释放，行业监管体系逐步完善，医保支付逐步向线上延伸打通服务闭环</text>
<text class="t" x="83" y="803.8" textLength="80.5" lengthAdjust="spacingAndGlyphs">人工智能、大数据、云计算等新技术加速落地，推动医疗服务效率和质量显著提升</text>
<text class="t" x="83" y="806.8" textLength="80.5" lengthAdjust="spacingAndGlyphs">医疗资源分布不均衡问题依然突出，基层医疗机构服务能力有待进一步加强提高</text>
<text class="t" x="100" y="810.8" textLength="63.5" lengthAdjust="spacingAndGlyphs">医疗机构加快信息化建设，推动诊疗服务流程优化</text>
<text class="t" x="83" y="814.8" textLength="80.5" lengthAdjust="spacingAndGlyphs">互联网医院数量快速增长，医药电商平台布局加速，处方外流趋势日益明显清晰</text>
<text class="t" x="83" y="817.8" textLength="80.5" lengthAdjust="spacingAndGlyphs">健康管理需求旺盛，慢病管理市场潜力巨大，用户对线上服务的信任度逐步提高</text>
<text class="t" x="83" y="820.8" textLength="80.5" lengthAdjust="spacingAndGlyphs">医疗机构加快数字化转型，智慧医院建设全面推进，诊疗流程持续优化患者体验</text>
</g>

<g id="leaves-863">
<text class="t" x="90" y="826.8" textLength="68.5" lengthAdjust="spacingAndGlyphs">医保线上支付试点范围扩大，患者就医体验持续改善</text>
<text class="t" x="77" y="830.3" textLength="81.5" lengthAdjust="spacingAndGlyphs">资本市场持续关注互联网医疗赛道，头部企业加速上市，行业集中度进一步提升</text>
<text class="t" x="77" y="833.3" textLength="81.5" lengthAdjust="spacingAndGlyphs">互联网医疗行业市场规模持续扩大，用户渗透率不断提升，线上问诊服务逐渐普及</text>
<text class="t" x="133" y="837.8" textLength="25.5" lengthAdjust="spacingAndGlyphs">智慧医院建设</text>
<text class="t" x="130" y="841.8" textLength="28.5" lengthAdjust="spacingAndGlyphs">政策环境与监管</text>
<text class="t" x="117" y="845.8" textLength="41.5" lengthAdjust="spacingAndGlyphs">在线问诊服务模式分析</text>
<text class="t" x="80" y="849.8" textLength="78.5" lengthAdjust="spacingAndGlyphs">政策红利持续释放，行业监管体系逐步完善，医保支付逐步向线上延伸打通闭环</text>
<text class="t" x="100" y="853.8" textLength="58.5" lengthAdjust="spacingAndGlyphs">人工智能辅助诊断产品获批上市，应用逐步落地</text>
<text class="t" x="83" y="857.8" textLength="75.5" lengthAdjust="spacingAndGlyphs">人工智能、大数据等新技术加速落地，推动医疗服务效率和质量显著提升</text>
<text class="t" x="110" y="861.8" textLength="48.5" lengthAdjust="spacingAndGlyphs">医药电商处方流转平台建设加速</text>
<text class="t" x="107" y="865.8" textLength="51.5" lengthAdjust="spacingAndGlyphs">远程医疗服务网络覆盖基层，分级诊疗推进</text>
<text class="t" x="77" y="869.8" textLength="81.5" lengthAdjust="spacingAndGlyphs">医疗资源分布不均衡问题依然突出，基层医疗机构服务能力有待进一步加强提高</text>
<text class="t" x="77" y="872.8" textLength="81.5" lengthAdjust="spacingAndGlyphs">互联网医院数量快速增长，医药电商平台布局加速，处方外流趋势日益明显清晰</text>
<text class="t" x="117" y="877.8" textLength="41.5" lengthAdjust="spacingAndGlyphs">互联网医院发展现状</text>
<text class="t" x="110" y="881.8" textLength="48.5" lengthAdjust="spacingAndGlyphs">互联网医疗用户规模持续增长</text>
<text class="t" x="80" y="885.8" textLength="78.5" lengthAdjust="spacingAndGlyphs">健康管理需求旺盛，慢病管理市场潜力巨大，用户对线上服务的信任度逐步提高</text>
<text class="t" x="77" y="889.8" textLength="81.5" lengthAdjust="spacingAndGlyphs">医疗机构加快数字化转型，智慧医院建设全面推进，诊疗流程持续优化患者体验</text>
<text class="t" x="77" y="892.8" textLength="81.5" lengthAdjust="spacingAndGlyphs">资本市场持续关注互联网医疗赛道，头部企业加速上市，行业集中度进一步提升</text>
<text class="t" x="83" y="896.8" textLength="75.5" lengthAdjust="spacingAndGlyphs">互联网医疗行业市场规模持续扩大，用户渗透率不断提升，线上问诊普及</text>
</g>

<g id="leaves-bottom">
<text class="t" x="153" y="905.3" textLength="80" lengthAdjust="spacingAndGlyphs">政策红利持续释放，行业监管体系逐步完善，医保支付逐步向线上延伸打通服务闭环</text>
<text class="t" x="153" y="908.3" textLength="80" lengthAdjust="spacingAndGlyphs">人工智能、大数据、云计算等新技术加速落地，推动医疗服务效率和质量显著提升</text>
<text class="t" x="153" y="911.3" textLength="80" lengthAdjust="spacingAndGlyphs">医疗资源分布不均衡问题依然突出，基层医疗机构服务能力有待进一步加强提高</text>
<text class="t" x="187" y="915.3" textLength="48" lengthAdjust="spacingAndGlyphs">医疗机构加快信息化建设，推动诊疗流程优化</text>
<text class="t" x="170" y="919.3" textLength="65" lengthAdjust="spacingAndGlyphs">医保线上支付试点范围扩大，患者就医体验持续改善</text>
<text class="t" x="180" y="923.3" textLength="55" lengthAdjust="spacingAndGlyphs">人工智能辅助诊断产品获批上市，应用逐步落地</text>
<text class="t" x="153" y="927.3" textLength="82" lengthAdjust="spacingAndGlyphs">互联网医院数量快速增长，医药电商平台布局加速，处方外流趋势日益明显清晰</text>
<text class="t" x="153" y="930.3" textLength="82" lengthAdjust="spacingAndGlyphs">健康管理需求旺盛，慢病管理市场潜力巨大，用户对线上服务的信任度逐步提高</text>
</g>

<g id="R1"><text class="t" x="417" y="401.8" textLength="50" lengthAdjust="spacingAndGlyphs">高层要求互联网医疗产业创新发展</text></g>
<g id="R1a"><text class="t" x="474" y="388.8" textLength="16" lengthAdjust="spacingAndGlyphs">创新驱动</text>
<text class="t" x="497" y="373.8" textLength="103" lengthAdjust="spacingAndGlyphs">互联网医疗行业市场规模持续扩大，用户渗透率不断提升，线上问诊服务逐渐普及，行业进入高速发展期</text>
<text class="t" x="497" y="376.8" textLength="103" lengthAdjust="spacingAndGlyphs">政策红利持续释放，行业监管体系逐步完善，医保支付逐步向线上延伸打通服务闭环，推动产业规范发展</text>
<text class="t" x="497" y="379.8" textLength="103" lengthAdjust="spacingAndGlyphs">人工智能、大数据、云计算等新技术加速落地，推动医疗服务效率和质量显著提升，创新模式不断涌现</text>
<text class="t" x="497" y="382.8" textLength="103" lengthAdjust="spacingAndGlyphs">医疗资源分布不均衡问题依然突出，基层医疗机构服务能力有待进一步加强提高，数字化手段助力下沉</text>
<text class="t" x="497" y="385.8" textLength="103" lengthAdjust="spacingAndGlyphs">互联网医院数量快速增长，医药电商平台布局加速，处方外流趋势日益明显清晰，产业链协同不断加强</text>
<text class="t" x="497" y="388.8" textLength="60" lengthAdjust="spacingAndGlyphs">健康管理需求旺盛，慢病管理市场潜力巨大</text></g>
<g id="R1b"><text class="t" x="474" y="404.3" textLength="16" lengthAdjust="spacingAndGlyphs">融合发展</text>
<text class="t" x="497" y="392.3" textLength="103" lengthAdjust="spacingAndGlyphs">医疗机构加快数字化转型，智慧医院建设全面推进，诊疗流程持续优化患者体验，线上线下服务深度融合</text>
<text class="t" x="497" y="395.3" textLength="103" lengthAdjust="spacingAndGlyphs">资本市场持续关注互联网医疗赛道，头部企业加速上市，行业集中度进一步提升，竞争格局逐步清晰稳定</text>
<text class="t" x="497" y="398.3" textLength="103" lengthAdjust="spacingAndGlyphs">互联网医疗行业市场规模持续扩大，用户渗透率不断提升，线上问诊服务逐渐普及，服务内容日益丰富</text>
<text class="t" x="497" y="401.3" textLength="103" lengthAdjust="spacingAndGlyphs">政策红利持续释放，行业监管体系逐步完善，医保支付逐步向线上延伸打通服务闭环，产业生态逐渐成熟</text>
<text class="t" x="497" y="404.3" textLength="80" lengthAdjust="spacingAndGlyphs">人工智能、大数据、云计算等新技术加速落地，推动医疗服务效率提升</text></g>
<g id="R1c"><text class="t" x="474" y="416.8" textLength="16" lengthAdjust="spacingAndGlyphs">模式创新</text>
<text class="t" x="497" y="407.8" textLength="103" lengthAdjust="spacingAndGlyphs">医疗资源分布不均衡问题依然突出，基层医疗机构服务能力有待进一步加强提高，远程医疗发挥重要作用</text>
<text class="t" x="497" y="410.8" textLength="103" lengthAdjust="spacingAndGlyphs">互联网医院数量快速增长，医药电商平台布局加速，处方外流趋势日益明显清晰，医药险协同模式兴起</text>
<text class="t" x="497" y="413.8" textLength="103" lengthAdjust="spacingAndGlyphs">健康管理需求旺盛，慢病管理市场潜力巨大，用户对线上服务的信任度逐步提高，付费意愿持续增强</text>
<text class="t" x="497" y="416.8" textLength="72" lengthAdjust="spacingAndGlyphs">医疗机构加快数字化转型，智慧医院建设全面推进，诊疗流程持续优化</text></g>
<g id="R2"><text class="t" x="417" y="451.8" textLength="53" lengthAdjust="spacingAndGlyphs">中国互联网医疗产业发展需要的新模式分析</text></g>
<g id="R2a"><text class="t" x="474" y="426.8" textLength="13" lengthAdjust="spacingAndGlyphs">模式概述</text>
<text class="t" x="492" y="420.8" textLength="108" lengthAdjust="spacingAndGlyphs">资本市场持续关注互联网医疗赛道，头部企业加速上市，行业集中度进一步提升，新模式不断探索与实践落地</text>
<text class="t" x="492" y="423.8" textLength="108" lengthAdjust="spacingAndGlyphs">互联网医疗行业市场规模持续扩大，用户渗透率不断提升，线上问诊服务逐渐普及，服务链条持续延伸拓展</text>
<text class="t" x="492" y="426.8" textLength="70" lengthAdjust="spacingAndGlyphs">政策红利持续释放，行业监管体系逐步完善，医保支付逐步打通</text></g>
<g id="R2b"><text class="t" x="474" y="478.8" textLength="8" lengthAdjust="spacingAndGlyphs">特点</text></g>
<g id="R2b1"><text class="t" x="487" y="447.8" textLength="11" lengthAdjust="spacingAndGlyphs">服务特点</text>
<text class="t" x="504" y="431.8" textLength="48" lengthAdjust="spacingAndGlyphs">在线问诊服务覆盖范围持续扩大，满足多样化需求</text>
<text class="t" x="504" y="435.8" textLength="36" lengthAdjust="spacingAndGlyphs">互联网医院发展现状分析</text>
<text class="t" x="504" y="440.8" textLength="23" lengthAdjust="spacingAndGlyphs">主要表现</text>
<text class="t" x="531" y="439.3" textLength="22" lengthAdjust="spacingAndGlyphs">服务便捷高效</text>
<text class="t" x="531" y="442.8" textLength="22" lengthAdjust="spacingAndGlyphs">就医成本降低</text>
<text class="t" x="504" y="450.8" textLength="23" lengthAdjust="spacingAndGlyphs">核心优势</text>
<text class="t" x="531" y="447.3" textLength="29" lengthAdjust="spacingAndGlyphs">打破时间空间限制</text>
<text class="t" x="531" y="451.3" textLength="26" lengthAdjust="spacingAndGlyphs">优化医疗资源配置</text>
<text class="t" x="531" y="455.8" textLength="35" lengthAdjust="spacingAndGlyphs">提升就诊效率与患者体验</text>
<text class="t" x="504" y="459.8" textLength="23" lengthAdjust="spacingAndGlyphs">用户需求分析</text>
<text class="t" x="504" y="463.8" textLength="21" lengthAdjust="spacingAndGlyphs">技术驱动</text></g>
<g id="R2b2"><text class="t" x="487" y="483.8" textLength="11" lengthAdjust="spacingAndGlyphs">发展特点</text>
<text class="t" x="504" y="467.8" textLength="16" lengthAdjust="spacingAndGlyphs">线上化</text>
<text class="t" x="504" y="471.8" textLength="23" lengthAdjust="spacingAndGlyphs">平台化发展</text>
<text class="t" x="504" y="475.8" textLength="23" lengthAdjust="spacingAndGlyphs">智能化升级</text>
<text class="t" x="504" y="479.8" textLength="36" lengthAdjust="spacingAndGlyphs">医药险一体化融合发展</text>
<text class="t" x="504" y="483.8" textLength="23" lengthAdjust="spacingAndGlyphs">生态化布局</text>
<text class="t" x="504" y="487.8" textLength="29" lengthAdjust="spacingAndGlyphs">专业化服务细分</text>
<text class="t" x="504" y="491.3" textLength="26" lengthAdjust="spacingAndGlyphs">规范化运营管理</text>
<text class="t" x="504" y="494.8" textLength="19" lengthAdjust="spacingAndGlyphs">服务下沉</text>
<text class="t" x="504" y="497.8" textLength="19" lengthAdjust="spacingAndGlyphs">国际合作</text></g>
<g id="R2b3"><text class="t" x="487" y="510.8" textLength="11" lengthAdjust="spacingAndGlyphs">竞争特点</text>
<text class="t" x="504" y="501.8" textLength="43" lengthAdjust="spacingAndGlyphs">头部企业竞争优势持续扩大</text>
<text class="t" x="504" y="505.8" textLength="16" lengthAdjust="spacingAndGlyphs">差异化</text>
<text class="t" x="504" y="510.3" textLength="16" lengthAdjust="spacingAndGlyphs">专科化</text>
<text class="t" x="504" y="514.8" textLength="16" lengthAdjust="spacingAndGlyphs">区域化</text>
<text class="t" x="504" y="518.8" textLength="46" lengthAdjust="spacingAndGlyphs">跨界企业加速进入互联网医疗领域</text></g>
<g id="R3"><text class="t" x="416" y="544.8" textLength="52" lengthAdjust="spacingAndGlyphs">中国互联网医疗产业发展问题现状分析</text></g>
<g id="R3a"><text class="t" x="475" y="533.8" textLength="12" lengthAdjust="spacingAndGlyphs">主要问题</text>
<text class="t" x="493" y="533.8" textLength="24" lengthAdjust="spacingAndGlyphs">问题表现</text>
<text class="t" x="520" y="521.8" textLength="80" lengthAdjust="spacingAndGlyphs">医疗资源分布不均衡问题依然突出，基层医疗机构服务能力有待进一步加强提高</text>
<text class="t" x="520" y="524.8" textLength="80" lengthAdjust="spacingAndGlyphs">互联网医院数量快速增长，医药电商平台布局加速，处方外流趋势日益明显清晰</text>
<text class="t" x="520" y="527.8" textLength="80" lengthAdjust="spacingAndGlyphs">健康管理需求旺盛，慢病管理市场潜力巨大，用户对线上服务的信任度逐步提高</text>
<text class="t" x="520" y="530.8" textLength="80" lengthAdjust="spacingAndGlyphs">医疗机构加快数字化转型，智慧医院建设全面推进，诊疗流程持续优化患者体验</text>
<text class="t" x="520" y="533.8" textLength="60" lengthAdjust="spacingAndGlyphs">资本市场持续关注互联网医疗赛道，行业集中度提升</text></g>
<g id="R3b"><text class="t" x="475" y="542.8" textLength="12" lengthAdjust="spacingAndGlyphs">制约因素</text>
<text class="t" x="493" y="538.8" textLength="27" lengthAdjust="spacingAndGlyphs">监管政策待完善</text>
<text class="t" x="493" y="542.3" textLength="67" lengthAdjust="spacingAndGlyphs">医保线上支付试点范围有限，患者就医体验仍需改善提升</text>
<text class="t" x="493" y="545.3" textLength="17" lengthAdjust="spacingAndGlyphs">数据安全</text></g>
<g id="R3c"><text class="t" x="475" y="557.8" textLength="12" lengthAdjust="spacingAndGlyphs">解决路径</text>
<text class="t" x="493" y="549.8" textLength="57" lengthAdjust="spacingAndGlyphs">完善行业监管体系，推动医保线上支付全面打通</text>
<text class="t" x="493" y="553.8" textLength="17" lengthAdjust="spacingAndGlyphs">政策支持</text>
<text class="t" x="493" y="558.3" textLength="24" lengthAdjust="spacingAndGlyphs">加强技术创新</text>
<text class="t" x="493" y="563.3" textLength="25" lengthAdjust="spacingAndGlyphs">推进模式创新</text></g>
</svg>
